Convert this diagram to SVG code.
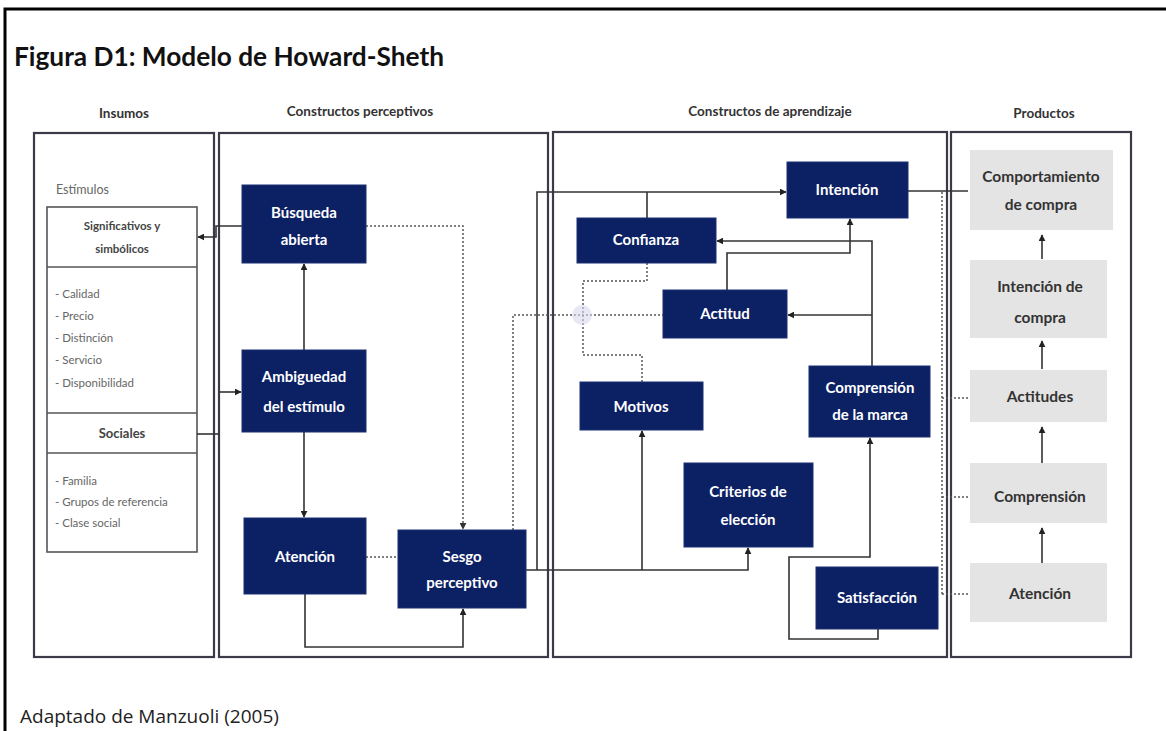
<svg xmlns="http://www.w3.org/2000/svg" width="1166" height="731" viewBox="0 0 1166 731">
  <defs>
    <marker id="arr" viewBox="0 0 10 10" refX="9" refY="5" markerWidth="7" markerHeight="7" orient="auto-start-reverse" markerUnits="userSpaceOnUse">
      <path d="M0,0 L10,5 L0,10 z" fill="#222"/>
    </marker>
    <marker id="arrd" viewBox="0 0 10 10" refX="9" refY="5" markerWidth="7" markerHeight="7" orient="auto-start-reverse" markerUnits="userSpaceOnUse">
      <path d="M0,0 L10,5 L0,10 z" fill="#333"/>
    </marker>
  </defs>
  <style>
    .title { font-family: Lato, "Liberation Sans", sans-serif; font-weight: bold; font-size: 26px; fill: #111; }
    .foot { font-family: "Open Sans", "Liberation Sans", sans-serif; font-size: 19px; fill: #222; }
    .head { font-family: Lato, "Liberation Sans", sans-serif; font-weight: bold; font-size: 13.5px; fill: #333; text-anchor: middle; }
    .panel { fill: #ffffff; stroke: #3a3a48; stroke-width: 2.2; }
    .inbox { fill: #ffffff; stroke: #555; stroke-width: 1.6; }
    .list { font-family: Lato, "Liberation Sans", sans-serif; font-size: 11.5px; fill: #666; }
    .sub { font-family: Lato, "Liberation Sans", sans-serif; font-size: 12.5px; fill: #666; }
    .inlab { font-family: Lato, "Liberation Sans", sans-serif; font-weight: bold; font-size: 11.5px; fill: #444; text-anchor: middle; }
    .node rect { fill: #0c2064; stroke: #1b2f70; stroke-width: 1; }
    .node text { font-family: Lato, "Liberation Sans", sans-serif; font-weight: bold; font-size: 15px; fill: #ffffff; text-anchor: middle; }
    .prod rect { fill: #e4e4e4; }
    .prod text { font-family: Lato, "Liberation Sans", sans-serif; font-weight: bold; font-size: 15.5px; fill: #333; text-anchor: middle; }
    .ln { fill: none; stroke: #333; stroke-width: 1.6; }
    .dot { fill: none; stroke: #555; stroke-width: 1.5; stroke-dasharray: 2 2; }
  </style>

  <rect width="1166" height="731" fill="#ffffff"/>
  <!-- outer frame -->
  <path d="M5,731 V9 H1166" fill="none" stroke="#000" stroke-width="3"/>

  <text class="title" x="14" y="66" textLength="430" lengthAdjust="spacingAndGlyphs">Figura D1: Modelo de Howard-Sheth</text>
  <text class="foot" x="20" y="723">Adaptado de Manzuoli (2005)</text>

  <!-- column headers -->
  <text class="head" x="124" y="118">Insumos</text>
  <text class="head" x="360" y="116">Constructos perceptivos</text>
  <text class="head" x="770" y="116">Constructos de aprendizaje</text>
  <text class="head" x="1044" y="118">Productos</text>

  <!-- panels -->
  <g id="panels">
    <rect class="panel" x="34" y="133" width="180" height="524"/>
    <rect class="panel" x="219" y="133" width="329" height="524"/>
    <rect class="panel" x="553" y="132" width="394" height="525"/>
    <rect class="panel" x="951" y="132" width="180" height="525"/>
  </g>

  <!-- inputs -->
  <g id="insumos">
    <text class="sub" x="56" y="194">Estímulos</text>
    <rect class="inbox" x="47" y="207" width="150" height="345"/>
    <line x1="47" y1="267" x2="197" y2="267" stroke="#555" stroke-width="1.6"/>
    <line x1="47" y1="413" x2="197" y2="413" stroke="#555" stroke-width="1.6"/>
    <line x1="47" y1="453" x2="197" y2="453" stroke="#555" stroke-width="1.6"/>
    <text class="inlab" x="122" y="230">Significativos y</text>
    <text class="inlab" x="122" y="253">simbólicos</text>
    <text class="list" x="55" y="298">- Calidad</text>
    <text class="list" x="55" y="320">- Precio</text>
    <text class="list" x="55" y="342">- Distinción</text>
    <text class="list" x="55" y="364">- Servicio</text>
    <text class="list" x="55" y="387">- Disponibilidad</text>
    <text class="inlab" x="122" y="438" style="font-size:13px">Sociales</text>
    <text class="list" x="55" y="485">- Familia</text>
    <text class="list" x="55" y="506">- Grupos de referencia</text>
    <text class="list" x="55" y="527">- Clase social</text>
  </g>

  <!-- connectors -->
  <g id="connectors">
    <!-- perceptual constructs -->
    <path class="ln" d="M242,226 H216 V237 H198" marker-end="url(#arr)"/>
    <path class="ln" d="M220,392 H241" marker-end="url(#arr)"/>
    <path class="ln" d="M197,434 H219"/>
    <path class="ln" d="M304,350 V264" marker-end="url(#arr)"/>
    <path class="ln" d="M304,432 V517" marker-end="url(#arr)"/>
    <path class="dot" d="M366,226 H463 V529" marker-end="url(#arrd)"/>
    <path class="dot" d="M366,557 H398"/>
    <path class="ln" d="M305,594 V647 H463 V609" marker-end="url(#arr)"/>
    <path class="dot" d="M513,530 V315 H663"/>
    <!-- perceptual bias to learning constructs -->
    <path class="ln" d="M526,570 H748 V548" marker-end="url(#arr)"/>
    <path class="ln" d="M642,570 V431" marker-end="url(#arr)"/>
    <path class="ln" d="M537,570 V192 H786" marker-end="url(#arr)"/>
    <path class="ln" d="M647,192 V218"/>
    <!-- trust and motives -->
    <path class="dot" d="M647,263 V281 H583 V355 H642 V382"/>
    <circle cx="582" cy="315" r="10" fill="#d8d8ee" opacity="0.6"/>
    <!-- brand comprehension -->
    <path class="ln" d="M872,366 V241 H717" marker-end="url(#arr)"/>
    <path class="ln" d="M872,315 H788" marker-end="url(#arr)"/>
    <path class="ln" d="M727,290 V253 H850 V219" marker-end="url(#arr)"/>
    <path class="ln" d="M878,629 V639 H789 V557 H870 V438" marker-end="url(#arr)"/>
    <!-- outputs -->
    <path class="ln" d="M908,191 H968"/>
    <path class="dot" d="M942,192 V594"/>
    <path class="dot" d="M942,398 H970"/>
    <path class="dot" d="M942,497 H970"/>
    <path class="dot" d="M942,594 H970"/>
    <path class="ln" d="M1042,259 V235" marker-end="url(#arr)"/>
    <path class="ln" d="M1042,369 V341" marker-end="url(#arr)"/>
    <path class="ln" d="M1042,468 V427" marker-end="url(#arr)"/>
    <path class="ln" d="M1042,563 V528" marker-end="url(#arr)"/>
  </g>

  <!-- perceptual constructs nodes -->
  <g id="busqueda" class="node">
    <rect x="242" y="185" width="124" height="78"/>
    <text x="304" y="218">Búsqueda</text>
    <text x="304" y="245">abierta</text>
  </g>
  <g id="ambiguedad" class="node">
    <rect x="242" y="350" width="124" height="82"/>
    <text x="304" y="382">Ambiguedad</text>
    <text x="304" y="412">del estímulo</text>
  </g>
  <g id="atencion" class="node">
    <rect x="244" y="518" width="122" height="76"/>
    <text x="305" y="562">Atención</text>
  </g>
  <g id="sesgo" class="node">
    <rect x="398" y="530" width="128" height="78"/>
    <text x="462" y="562">Sesgo</text>
    <text x="462" y="588">perceptivo</text>
  </g>

  <!-- learning constructs nodes -->
  <g id="intencion" class="node">
    <rect x="787" y="162" width="121" height="56"/>
    <text x="847" y="195">Intención</text>
  </g>
  <g id="confianza" class="node">
    <rect x="577" y="218" width="139" height="45"/>
    <text x="646" y="245">Confianza</text>
  </g>
  <g id="actitud" class="node">
    <rect x="663" y="290" width="124" height="48"/>
    <text x="725" y="319">Actitud</text>
  </g>
  <g id="motivos" class="node">
    <rect x="580" y="382" width="123" height="48"/>
    <text x="641" y="412">Motivos</text>
  </g>
  <g id="comprension-marca" class="node">
    <rect x="809" y="366" width="121" height="71"/>
    <text x="870" y="393">Comprensión</text>
    <text x="870" y="420">de la marca</text>
  </g>
  <g id="criterios" class="node">
    <rect x="684" y="463" width="129" height="84"/>
    <text x="748" y="497">Criterios de</text>
    <text x="748" y="525">elección</text>
  </g>
  <g id="satisfaccion" class="node">
    <rect x="816" y="567" width="122" height="62"/>
    <text x="877" y="603">Satisfacción</text>
  </g>

  <!-- outputs nodes -->
  <g id="comportamiento" class="prod">
    <rect x="970" y="150" width="143" height="80"/>
    <text x="1041" y="182">Comportamiento</text>
    <text x="1041" y="210">de compra</text>
  </g>
  <g id="intencion-compra" class="prod">
    <rect x="970" y="260" width="137" height="78"/>
    <text x="1040" y="292">Intención de</text>
    <text x="1040" y="323">compra</text>
  </g>
  <g id="actitudes" class="prod">
    <rect x="970" y="370" width="137" height="52"/>
    <text x="1040" y="402">Actitudes</text>
  </g>
  <g id="comprension" class="prod">
    <rect x="970" y="463" width="137" height="60"/>
    <text x="1040" y="502">Comprensión</text>
  </g>
  <g id="atencion-prod" class="prod">
    <rect x="970" y="563" width="137" height="59"/>
    <text x="1040" y="599">Atención</text>
  </g>
</svg>
